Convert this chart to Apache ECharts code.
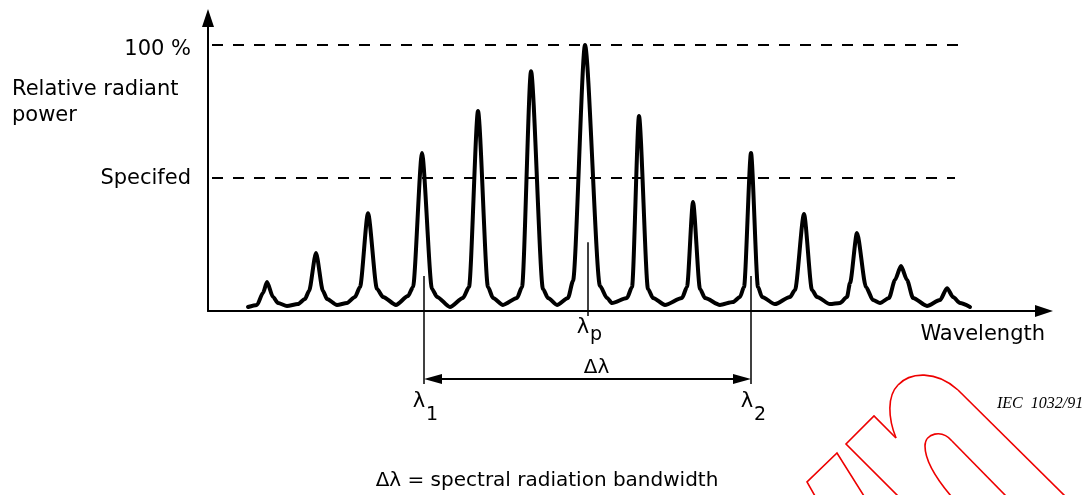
<!DOCTYPE html>
<html><head><meta charset="utf-8">
<script src="https://cdn.jsdelivr.net/npm/echarts@6/dist/echarts.min.js"></script>
<style>html,body{margin:0;padding:0;background:#fff}#c{width:1089px;height:495px}</style>
</head><body><div id="c"></div>
<script>
// Spectral curve (wavelength in arbitrary units, relative power in %)
const wavelength = [40,49,55,59,65,70,79,
  90,97,101,108,115,119,129,
  139,147,152,160,169,175,188,
  200,205,214,224,229,242,
  255,261,270,280,285,295,
  309,314,323,335,340,349,
  360,365,377,392,399,404,
  419,424,431,440,445,457,
  474,479,485,492,497,512,
  525,532,536,543,550,554,567,
  582,587,596,604,609,622,
  632,639,642,649,658,665,672,
  681,687,693,699,705,719,
  732,739,745,752,762];
const power = [1.5,2.3,6.8,10.9,5.3,3.0,1.9,
  2.6,4.5,7.5,21.8,7.5,4.5,2.3,
  3.0,5.3,9.0,36.8,8.3,5.3,2.3,
  5.6,9.0,59.4,8.3,5.3,1.5,
  4.9,9.0,75.2,9.0,4.9,2.3,
  4.9,9.0,90.2,8.3,4.9,2.3,
  4.9,11.3,100,9.4,4.9,3.0,
  4.9,9.0,73.3,8.3,4.9,2.3,
  4.9,9.0,41.0,8.3,4.9,2.3,
  3.4,5.3,9.0,59.4,9.0,5.3,2.6,
  5.3,7.9,36.5,7.9,5.3,2.6,
  3.0,5.3,10.5,29.3,9.0,4.1,3.0,
  4.9,11.7,16.9,11.7,4.9,1.9,
  4.1,8.6,5.3,3.0,1.5];
// Reference levels (%)
const fullLevel = 100;
const specifiedLevel = 50;
const levelLabels = ['100 %', 'Specifed'];
// Marker wavelengths
const lambda1 = 216, lambdaP = 380, lambda2 = 543;
const xMin = 0, xMax = 836, yMin = 0, yMax = 110.2;

const FONT = '"DejaVu Sans", sans-serif';
const chart = echarts.init(document.getElementById('c'), null, {renderer: 'canvas'});
const pts = wavelength.map((w, i) => [w, power[i]]);

chart.setOption({
  animation: false,
  backgroundColor: '#fff',
  grid: {left: 208, right: 45, top: 18, bottom: 184, containLabel: false},
  xAxis: {
    type: 'value', min: xMin, max: xMax,
    axisLine: {show: true, symbol: ['none', 'triangle'], symbolSize: [12, 18], lineStyle: {color: '#000', width: 2}},
    axisTick: {show: false}, axisLabel: {show: false}, splitLine: {show: false}
  },
  yAxis: {
    type: 'value', min: yMin, max: yMax,
    axisLine: {show: true, symbol: ['none', 'triangle'], symbolSize: [12, 18], lineStyle: {color: '#000', width: 2}},
    axisTick: {show: false}, axisLabel: {show: false}, splitLine: {show: false}
  },
  series: [{
    type: 'line', data: pts, showSymbol: false, symbol: 'none',
    smooth: 0.25, smoothMonotone: 'x',
    lineStyle: {color: '#000', width: 4, join: 'round', cap: 'round'},
    markLine: {
      silent: true, symbol: ['none', 'none'], label: {show: false},
      lineStyle: {color: '#000', width: 2, type: [11, 10]},
      data: [
        [{coord: [4, fullLevel]}, {coord: [750, fullLevel]}],
        [{coord: [4, specifiedLevel]}, {coord: [747, specifiedLevel]}]
      ]
    }
  }]
});

const P = (x, y) => chart.convertToPixel({gridIndex: 0}, [x, y]);
function txt(text, x, y, size, align) {
  return {
    type: 'text', silent: true,
    style: {text: text, x: x, y: y, font: size + 'px ' + FONT, fill: '#000',
      align: align, textAlign: align, verticalAlign: 'middle', textVerticalAlign: 'middle'}
  };
}
function seg(a, b, w, color) {
  return {type: 'line', silent: true, shape: {x1: a[0], y1: a[1], x2: b[0], y2: b[1]}, style: {stroke: color || '#000', lineWidth: w}};
}
const l1t = P(lambda1, 13.2), l1b = P(lambda1, -27.5);
const l2t = P(lambda2, 13.2), l2b = P(lambda2, -27.5);
const lpt = P(lambdaP, 25.9), lpb = P(lambdaP, -1.9);
const a1 = P(lambda1, -25.6), a2 = P(lambda2, -25.6);
const yFull = P(0, fullLevel)[1], ySpec = P(0, specifiedLevel)[1];
const yAx = P(0, 0)[1];

const RED = '#ee0000';
const redStyle = {stroke: RED, lineWidth: 1.6, fill: null};
function poly(points) { return {type: 'polyline', silent: true, shape: {points: points}, style: redStyle}; }
function bez(p0, c1, c2, p1) {
  return {type: 'bezierCurve', silent: true,
    shape: {x1: p0[0], y1: p0[1], cpx1: c1[0], cpy1: c1[1], cpx2: c2[0], cpy2: c2[1], x2: p1[0], y2: p1[1]},
    style: redStyle};
}
const g = [
  seg(l1t, l1b, 1.5), seg(l2t, l2b, 1.5), seg(lpt, lpb, 1.5),
  seg([a1[0] + 10, a1[1]], [a2[0] - 10, a2[1]], 2),
  {type: 'polygon', silent: true, shape: {points: [[a1[0], a1[1]], [a1[0] + 18, a1[1] - 5], [a1[0] + 18, a1[1] + 5]]}, style: {fill: '#000'}},
  {type: 'polygon', silent: true, shape: {points: [[a2[0], a2[1]], [a2[0] - 18, a2[1] - 5], [a2[0] - 18, a2[1] + 5]]}, style: {fill: '#000'}},
  txt(levelLabels[0], 191, yFull + 4, 21, 'right'),
  txt(levelLabels[1], 191, ySpec, 21, 'right'),
  txt('Relative radiant', 12, 90, 21, 'left'),
  txt('power', 12, 116, 21, 'left'),
  txt('Wavelength', 1045, yAx + 24, 21, 'right'),
  txt('λ', lpb[0] - 5, 328, 21, 'center'),
  txt('p', lpb[0] + 8, 335, 19, 'center'),
  txt('Δλ', (a1[0] + a2[0]) / 2 + 9, 368, 20, 'center'),
  txt('λ', l1b[0] - 5, 402, 21, 'center'),
  txt('1', l1b[0] + 8, 415, 19, 'center'),
  txt('λ', l2b[0] - 4, 402, 21, 'center'),
  txt('2', l2b[0] + 9, 415, 19, 'center'),
  {type: 'text', silent: true, style: {text: 'IEC  1032/91', x: 997, y: 404, font: 'italic 16px "Liberation Serif", serif', fill: '#000', align: 'left', textAlign: 'left', verticalAlign: 'middle', textVerticalAlign: 'middle'}},
  txt('Δλ = spectral radiation bandwidth', 547, 481, 20, 'center'),
  // red stamp outline (decoration)
  poly([[815, 496], [807, 482], [837, 453], [864, 496]]),
  poly([[898, 496], [846, 444], [874, 416], [896, 438]]),
  bez([896, 438], [888, 418], [887, 396], [898, 385]),
  bez([898, 385], [910, 372], [936, 370], [958, 390]),
  poly([[958, 390], [1065, 496]]),
  bez([951, 496], [940, 483], [925, 462], [925, 446]),
  bez([925, 446], [925, 433], [942, 429], [952, 441]),
  poly([[952, 441], [1006, 496]])
];
chart.setOption({graphic: {elements: g}});
</script>
</body></html>
